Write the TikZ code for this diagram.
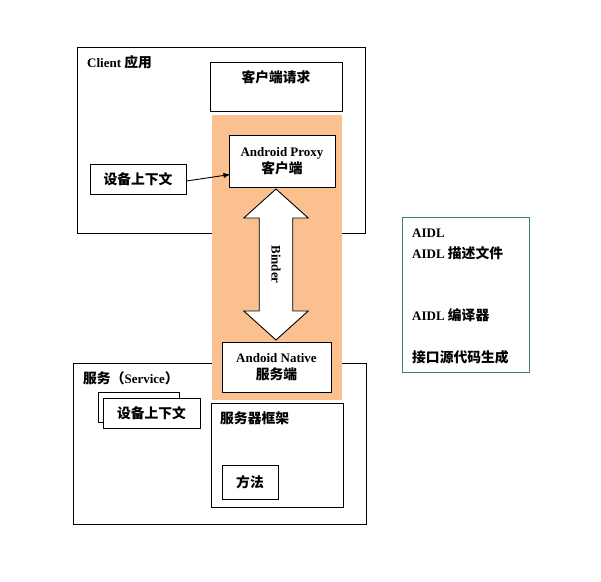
\documentclass[tikz,border=0pt]{standalone}
\usepackage{fontspec}
\setmainfont{Liberation Serif}
\newfontfamily\cjk{Noto Sans CJK SC}[Scale=1.06]
\usetikzlibrary{arrows.meta,calc,positioning,shapes.arrows}
\definecolor{BinderOrange}{RGB}{250,192,144}
\definecolor{AidlGreen}{RGB}{60,135,105}
\newcommand{\zh}[1]{{\cjk #1}}

\begin{document}
\begin{tikzpicture}[x=1pt,y=1pt,>=Latex,font=\fontsize{13}{17}\selectfont\bfseries,
  pane/.style={draw,fill=white,line width=0.9pt,inner sep=0pt},
  tag/.style={inner sep=0pt},
  binder/.style={double arrow,draw,fill=white,line width=0.9pt,rotate=-90,minimum height=151,
    double arrow head extend=15.5,double arrow tip angle=96,inner ysep=11.7,inner xsep=0pt}]
\useasboundingbox (0,0) rectangle (601,581);
% outer frames
\node[pane,fill=none,minimum width=288,minimum height=186] (client) at (221,441) {};
\node[pane,fill=none,minimum width=293,minimum height=161] (service) at (219.5,137.5) {};
\node[tag,anchor=west] (clienttag) at (87,519) {Client \zh{应用}};
\node[tag,anchor=west] (servicetag) at (83,203) {\zh{服务（}Service\zh{）}};
% binder strip
\fill[BinderOrange] (212,181) rectangle (342,466);
\node[pane,minimum width=132,minimum height=49] (request) at (276,494.5) {};
\node[tag] (requesttag) at (276,504) {\zh{客户端请求}};
\node[pane,minimum width=106,minimum height=52,align=center] (proxy) at (282,420) {Android Proxy\\\zh{客户端}};
\node[pane,minimum width=96,minimum height=30] (ctxclient) at (138,402) {\zh{设备上下文}};
\draw[->,line width=0.9pt] ($(ctxclient.east)+(0,-2)$) -- ($(proxy.south west)+(2,13)$);
\node[pane,minimum width=109,minimum height=50,align=center] (native) at (276.5,214) {Andoid Native\\\zh{服务端}};
\node[binder] (binderarrow) at (276,316.5) {Binder};
% service side
\node[pane,minimum width=81,minimum height=30] (ctxback) at (138.5,174) {};
\node[pane,minimum width=97,minimum height=30] (ctxservice) at (151.5,168) {\zh{设备上下文}};
\node[pane,minimum width=132,minimum height=104] (framework) at (277,126) {};
\node[tag,anchor=west] (frameworktag) at (220,163) {\zh{服务器框架}};
\node[pane,minimum width=56,minimum height=34] (method) at (250,99) {\zh{方法}};
% aidl
\node[pane,draw=AidlGreen,minimum width=127,minimum height=155] (aidl) at (465.5,286.5) {};
\node[tag,anchor=west] (aidltitle) at (412,348) {AIDL};
\node[tag,anchor=west] (aidlfile) at (412,328) {AIDL \zh{描述文件}};
\node[tag,anchor=west] (aidlcompiler) at (412,266) {AIDL \zh{编译器}};
\node[tag,anchor=west] (aidlcode) at (412,224) {\zh{接口源代码生成}};
\end{tikzpicture}
\end{document}
